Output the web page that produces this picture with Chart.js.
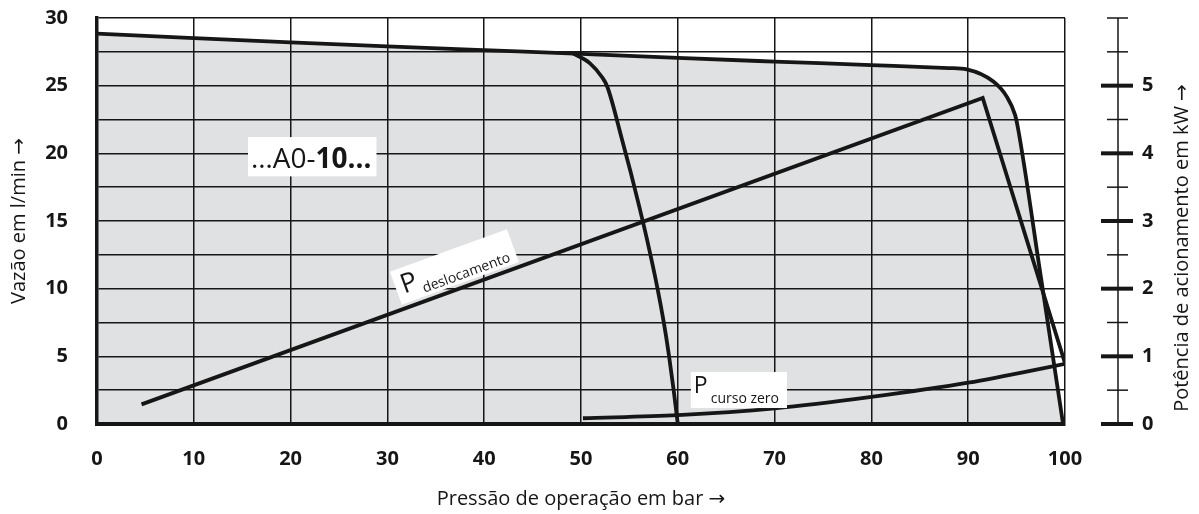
<!DOCTYPE html>
<html>
<head>
<meta charset="utf-8">
<script src="https://cdn.jsdelivr.net/npm/chart.js@4.4.1/dist/chart.umd.min.js"></script>
<style>
  html, body { margin: 0; padding: 0; background: #ffffff; }
  #wrap { width: 1199px; height: 514px; position: relative; }
</style>
</head>
<body>
<div id="wrap"><canvas id="chart" width="1199" height="514"></canvas></div>
<script>
// Flow envelope of the pump (pressure in bar, flow in l/min)
const flowPressure = [0, 10, 20, 30, 40, 50, 60, 70, 80, 88, 89.85, 92.6, 93.98, 94.84, 95.14, 97.5, 99.8];
const flowRate     = [28.85, 28.52, 28.2, 27.9, 27.62, 27.35, 27.05, 26.78, 26.52, 26.3, 26.2, 25.3, 24.19, 22.84, 21.87, 10.9, 0];

// Flow curve with the pressure compensator set to about 50 bar
const cutoffPressure = [49.17, 50.93, 52.14, 52.72, 54.25, 55.16, 56.02, 56.83, 57.9, 58.54, 59.08, 59.57, 60];
const cutoffRate     = [27.39, 26.65, 25.66, 24.92, 20.99, 18.53, 16.06, 13.6, 10.03, 7.56, 5.1, 2.51, 0];

// Drive power (kW) at full displacement
const displacementPressure = [4.6, 91.5, 100];
const displacementPower    = [0.29, 4.82, 0.9];

// Drive power (kW) at zero stroke
const zeroStrokePressure = [50.2, 60, 70, 80, 90, 100];
const zeroStrokePower    = [0.085, 0.13, 0.23, 0.4, 0.61, 0.89];

// Axis ticks
const pressureTicks   = [0, 10, 20, 30, 40, 50, 60, 70, 80, 90, 100];
const flowTickLabels  = [0, 5, 10, 15, 20, 25, 30];
const powerTickMarks  = [0, 0.5, 1, 1.5, 2, 2.5, 3, 3.5, 4, 4.5, 5, 5.5, 6];
const powerTickLabels = [0, 1, 2, 3, 4, 5];

const INK = '#161616';
const FILL = '#dfe1e3';
const FONT = '"Open Sans", "DejaVu Sans", sans-serif';

const pts = (xs, ys) => xs.map((x, i) => ({ x: x, y: ys[i] }));

// Secondary power axis drawn a little to the right of the plot, plus its title
const powerAxisPlugin = {
  id: 'powerAxis',
  afterDraw(chart) {
    const s = chart.scales.y2;
    const ctx = chart.ctx;
    const ax = s.left + 53;
    ctx.save();
    ctx.strokeStyle = INK;
    ctx.lineCap = 'butt';
    ctx.lineWidth = 1.5;
    ctx.beginPath();
    ctx.moveTo(ax, s.getPixelForValue(0) + 2);
    ctx.lineTo(ax, s.getPixelForValue(6));
    ctx.stroke();
    powerTickMarks.forEach(v => {
      const y = s.getPixelForValue(v);
      const major = powerTickLabels.includes(v);
      ctx.lineWidth = major ? 4 : 1.5;
      ctx.beginPath();
      ctx.moveTo(ax - (major ? 17 : 11), y);
      ctx.lineTo(ax + (major ? 15 : 10), y);
      ctx.stroke();
    });
    ctx.translate(s.right - 17, (s.top + s.bottom) / 2 + 27);
    ctx.rotate(-Math.PI / 2);
    ctx.font = '20px ' + FONT;
    ctx.fillStyle = INK;
    ctx.textAlign = 'center';
    ctx.textBaseline = 'middle';
    ctx.fillText('Potência de acionamento em kW →', 0, 0);
    ctx.restore();
  }
};

// Curve captions on white boxes
const captionPlugin = {
  id: 'captions',
  afterDraw(chart) {
    const ctx = chart.ctx;
    const x = chart.scales.x, y = chart.scales.y, y2 = chart.scales.y2;
    ctx.save();
    ctx.fillStyle = INK;

    // type designation
    {
      const left = x.getPixelForValue(15.6), top = y.getPixelForValue(21.2), bottom = y.getPixelForValue(18.3);
      ctx.font = '28px ' + FONT;
      const a = '…A0-';
      const wa = ctx.measureText(a).width;
      ctx.font = 'bold 28px ' + FONT;
      const b = '10…';
      const wb = ctx.measureText(b).width;
      ctx.fillStyle = '#ffffff';
      ctx.fillRect(left, top, wa + wb + 8, bottom - top);
      ctx.fillStyle = INK;
      ctx.textBaseline = 'alphabetic';
      ctx.font = '28px ' + FONT;
      ctx.fillText(a, left + 3, bottom - 8);
      ctx.font = 'bold 28px ' + FONT;
      ctx.fillText(b, left + 3 + wa, bottom - 8);
    }

    // P deslocamento, rotated along its line
    {
      const p0x = x.getPixelForValue(displacementPressure[0]), p0y = y2.getPixelForValue(displacementPower[0]);
      const p1x = x.getPixelForValue(displacementPressure[1]), p1y = y2.getPixelForValue(displacementPower[1]);
      const ang = Math.atan2(p1y - p0y, p1x - p0x);
      const t = (37.7 - displacementPressure[0]) / (displacementPressure[1] - displacementPressure[0]);
      const cx = p0x + (p1x - p0x) * t, cy = p0y + (p1y - p0y) * t;
      ctx.translate(cx, cy);
      ctx.rotate(ang);
      ctx.translate(0, -22);
      ctx.font = '27px ' + FONT;
      const wp = ctx.measureText('P').width;
      ctx.font = '14px ' + FONT;
      const ws = ctx.measureText('deslocamento').width;
      const w = wp + ws + 16, h = 35;
      ctx.fillStyle = '#ffffff';
      ctx.fillRect(-w / 2, -h / 2, w, h);
      ctx.fillStyle = INK;
      ctx.font = '27px ' + FONT;
      ctx.fillText('P', -w / 2 + 6, 8);
      ctx.font = '14px ' + FONT;
      ctx.fillText('deslocamento', -w / 2 + 9 + wp, 14);
      ctx.setTransform(1, 0, 0, 1, 0, 0);
    }

    // P curso zero
    {
      const left = x.getPixelForValue(61.35), top = y.getPixelForValue(3.84), bottom = y.getPixelForValue(1.18);
      ctx.font = '23px ' + FONT;
      const wp = ctx.measureText('P').width;
      ctx.font = '14px ' + FONT;
      const ws = ctx.measureText('curso zero').width;
      ctx.fillStyle = '#ffffff';
      ctx.fillRect(left, top, wp + ws + 14, bottom - top);
      ctx.fillStyle = INK;
      ctx.font = '23px ' + FONT;
      ctx.fillText('P', left + 3, top + 21);
      ctx.font = '14px ' + FONT;
      ctx.fillText('curso zero', left + 6 + wp, top + 31);
    }
    ctx.restore();
  }
};

const chart = new Chart(document.getElementById('chart'), {
  type: 'line',
  data: {
    datasets: [
      {
        label: 'Vazão',
        data: pts(flowPressure, flowRate),
        yAxisID: 'y',
        borderColor: INK,
        borderWidth: 3.8,
        backgroundColor: FILL,
        fill: 'origin',
        pointRadius: 0,
        cubicInterpolationMode: 'monotone'
      },
      {
        label: 'Vazão 50 bar',
        data: pts(cutoffPressure, cutoffRate),
        yAxisID: 'y',
        borderColor: INK,
        borderWidth: 3.8,
        fill: false,
        pointRadius: 0,
        cubicInterpolationMode: 'monotone'
      },
      {
        label: 'P deslocamento',
        data: pts(displacementPressure, displacementPower),
        yAxisID: 'y2',
        borderColor: INK,
        borderWidth: 3.8,
        fill: false,
        pointRadius: 0,
        tension: 0,
        borderJoinStyle: 'miter'
      },
      {
        label: 'P curso zero',
        data: pts(zeroStrokePressure, zeroStrokePower),
        yAxisID: 'y2',
        borderColor: INK,
        borderWidth: 3.8,
        fill: false,
        pointRadius: 0,
        cubicInterpolationMode: 'monotone'
      }
    ]
  },
  options: {
    responsive: false,
    animation: false,
    devicePixelRatio: 1,
    layout: { padding: { top: 18, left: 0, right: 0, bottom: 0 } },
    plugins: {
      legend: { display: false },
      tooltip: { enabled: false },
      filler: { drawTime: 'beforeDatasetsDraw' }
    },
    scales: {
      x: {
        type: 'linear',
        position: 'bottom',
        min: 0,
        max: 100,
        afterBuildTicks: s => { s.ticks = pressureTicks.map(v => ({ value: v })); },
        afterFit: s => { s.height = 90; },
        ticks: {
          autoSkip: false,
          maxRotation: 0,
          padding: 4,
          color: INK,
          font: { family: FONT, size: 20, weight: 'bold' }
        },
        grid: { color: INK, lineWidth: 1.5, drawTicks: true, tickLength: 19, tickColor: 'rgba(0,0,0,0)', z: 1 },
        border: { color: INK, width: 4, z: 1 },
        title: {
          display: true,
          text: 'Pressão de operação em bar →',
          color: INK,
          font: { family: FONT, size: 20 },
          padding: { top: 0, bottom: 3 }
        }
      },
      y: {
        type: 'linear',
        position: 'left',
        min: 0,
        max: 30,
        ticks: {
          stepSize: 2.5,
          padding: 4,
          color: INK,
          font: { family: FONT, size: 20, weight: 'bold' },
          callback: v => flowTickLabels.includes(v) ? String(v) : ''
        },
        afterFit: s => { s.width = 97; },
        grid: { color: INK, lineWidth: 1.5, drawTicks: true, tickLength: 25, tickColor: 'rgba(0,0,0,0)', z: 1 },
        border: { color: INK, width: 3.5, z: 1 },
        title: {
          display: true,
          text: 'Vazão em l/min →',
          color: INK,
          font: { family: FONT, size: 20 },
          padding: { top: 7, bottom: 0 }
        }
      },
      y2: {
        type: 'linear',
        position: 'right',
        min: 0,
        max: 6,
        afterBuildTicks: s => { s.ticks = powerTickLabels.map(v => ({ value: v })); },
        afterFit: s => { s.width = 134; },
        ticks: {
          padding: 4,
          color: INK,
          font: { family: FONT, size: 20, weight: 'bold' }
        },
        grid: { display: false, drawTicks: true, tickLength: 73 },
        border: { display: false }
      }
    }
  },
  plugins: [powerAxisPlugin, captionPlugin]
});
</script>
</body>
</html>
